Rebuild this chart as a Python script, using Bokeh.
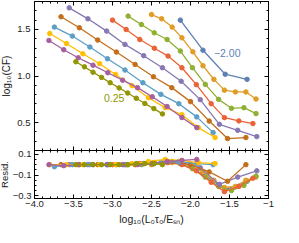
from bokeh.plotting import figure
from bokeh.layouts import column
from bokeh.models import FixedTicker, Label, LinearAxis, Range1d
from bokeh.embed import file_html
from bokeh.resources import INLINE

# ---- data ----
labels = ["−2.00", "−1.75", "−1.50", "−1.25", "−1.00", "−0.75", "−0.50", "−0.25", "0.00", "0.25"]
colors = ["#5E81B5", "#E19C24", "#8FB032", "#EB6235", "#8778B3",
          "#C56E1A", "#5D9EC7", "#FFBF00", "#A5609D", "#929600"]

x_m200 = [-2.13, -1.84, -1.555, -1.275]
y_m200 = [1.600, 1.277, 1.019, 0.964]
r_m200 = [0.01, -0.09, -0.24, -0.16]

x_m175 = [-2.50, -2.37, -2.235, -2.11, -1.97, -1.84, -1.70, -1.565, -1.425, -1.29, -1.16]
y_m175 = [1.660, 1.614, 1.525, 1.410, 1.260, 1.110, 0.964, 0.848, 0.829, 0.829, 0.753]
r_m175 = [0.00, 0.01, 0.02, 0.01, -0.02, -0.07, -0.15, -0.22, -0.21, -0.15, -0.12]

x_m150 = [-2.80, -2.63, -2.465, -2.30, -2.13, -1.975, -1.81, -1.64, -1.475, -1.315, -1.16]
y_m150 = [1.643, 1.553, 1.464, 1.392, 1.268, 1.089, 0.910, 0.749, 0.653, 0.660, 0.596]
r_m150 = [0.00, 0.00, 0.01, 0.02, 0.01, -0.04, -0.12, -0.21, -0.25, -0.20, -0.11]

x_m125 = [-3.00, -2.825, -2.65, -2.4625, -2.2875, -2.11, -1.925, -1.735, -1.565, -1.38, -1.20]
y_m125 = [1.600, 1.499, 1.392, 1.298, 1.214, 1.089, 0.907, 0.703, 0.553, 0.518, 0.489]
r_m125 = [0.00, 0.00, 0.01, 0.02, 0.02, 0.00, -0.06, -0.17, -0.26, -0.21, -0.13]

x_m100 = [-3.555, -3.315, -3.075, -2.84, -2.60, -2.36, -2.12, -1.875, -1.63, -1.395, -1.15]
y_m100 = [1.732, 1.614, 1.482, 1.339, 1.218, 1.089, 0.944, 0.746, 0.481, 0.417, 0.349]
r_m100 = [0.00, 0.00, 0.00, 0.00, 0.01, 0.02, 0.02, -0.03, -0.19, -0.12, -0.06]

x_m075 = [-3.66, -3.425, -3.19, -2.95, -2.71, -2.475, -2.24, -2.00, -1.76, -1.525, -1.29]
y_m075 = [1.636, 1.518, 1.386, 1.257, 1.124, 0.992, 0.875, 0.725, 0.516, 0.328, 0.339]
r_m075 = [0.00, 0.00, 0.00, 0.00, 0.00, 0.01, 0.03, 0.00, -0.07, -0.16, 0.00]

x_m050 = [-3.745, -3.515, -3.29, -3.065, -2.84, -2.61, -2.38, -2.15, -1.92, -1.71]
y_m050 = [1.525, 1.429, 1.311, 1.185, 1.064, 0.928, 0.803, 0.703, 0.561, 0.392]
r_m050 = [-0.02, 0.00, 0.00, 0.00, 0.00, 0.01, 0.02, 0.03, 0.01, 0.00]

x_m025 = [-3.805, -3.59, -3.38, -3.165, -2.96, -2.75, -2.54, -2.325, -2.11, -1.90, -1.685]
y_m025 = [1.457, 1.349, 1.239, 1.132, 1.017, 0.896, 0.767, 0.660, 0.585, 0.446, 0.339]
r_m025 = [0.00, 0.00, 0.00, 0.00, 0.00, 0.01, 0.03, 0.05, 0.04, 0.02, 0.01]

x_p000 = [-3.815, -3.625, -3.44, -3.25, -3.06, -2.87, -2.68, -2.49, -2.30, -2.11, -1.92]
y_p000 = [1.382, 1.282, 1.196, 1.116, 1.035, 0.955, 0.875, 0.777, 0.672, 0.554, 0.446]
r_p000 = [0.00, -0.01, 0.00, 0.00, 0.00, 0.00, 0.00, 0.01, 0.03, 0.04, 0.05]

x_p025 = [-3.47, -3.36, -3.25, -3.14, -3.03, -2.915, -2.805, -2.695, -2.585, -2.47, -2.36]
y_p025 = [1.153, 1.098, 1.041, 0.985, 0.928, 0.872, 0.817, 0.761, 0.705, 0.650, 0.593]
r_p025 = [0.00, 0.00, 0.00, 0.00, 0.00, 0.00, 0.00, 0.01, 0.01, 0.01, 0.00]

xs = [x_m200, x_m175, x_m150, x_m125, x_m100, x_m075, x_m050, x_m025, x_p000, x_p025]
ys = [y_m200, y_m175, y_m150, y_m125, y_m100, y_m075, y_m050, y_m025, y_p000, y_p025]
rs = [r_m200, r_m175, r_m150, r_m125, r_m100, r_m075, r_m050, r_m025, r_p000, r_p025]

x_ticks = [-4.0, -3.5, -3.0, -2.5, -2.0, -1.5, -1.0]
x_tick_labels = ["−4.0", "−3.5", "−3.0", "−2.5", "−2.0", "−1.5", "−1"]
y_ticks = [0.5, 1.0, 1.5]
y_tick_labels = ["0.5", "1.0", "1.5"]
r_ticks = [-0.3, -0.1, 0.1]
r_tick_labels = ["−0.3", "−0.1", "0.1"]

FONT = "Liberation Sans"
TXT = "#222222"

x_minor = [round(-4.0 + 0.1 * i, 2) for i in range(31)]
y_minor = [round(0.2 + 0.1 * i, 2) for i in range(17)]
r_minor = [round(-0.3 + 0.05 * i, 3) for i in range(9)]


def style(ax, ticks, minor, tick_labels=None, label_standoff=3):
    ax.ticker = FixedTicker(ticks=ticks, minor_ticks=minor)
    ax.major_tick_in = 4
    ax.major_tick_out = 0
    ax.minor_tick_in = 2
    ax.minor_tick_out = 0
    ax.axis_line_color = "black"
    ax.major_tick_line_color = "black"
    ax.minor_tick_line_color = "black"
    if tick_labels is None:
        ax.major_label_text_color = None
        ax.major_label_standoff = 0
    else:
        ax.major_label_overrides = {t: s for t, s in zip(ticks, tick_labels)}
        ax.major_label_text_font_size = "9.5px"
        ax.major_label_text_font = FONT
        ax.major_label_text_color = TXT
        ax.major_label_standoff = 4
    ax.axis_label_text_font = FONT
    ax.axis_label_text_font_style = "normal"
    ax.axis_label_text_font_size = "10px"
    ax.axis_label_text_color = TXT
    ax.axis_label_standoff = label_standoff


# page geometry: upper frame x 42..282, y 9..158 ; lower frame y 158..206
LB = 40   # left border (reserved)
TOPB = 14
MIDB = 12

p1 = figure(frame_width=240, frame_height=149, x_range=Range1d(-4, -1), y_range=Range1d(0.2, 1.8),
            output_backend="svg", toolbar_location=None, title=None,
            min_border_left=LB, min_border_right=8, min_border_top=TOPB, min_border_bottom=MIDB)
p1.margin = (9 - 8 - TOPB, 0, 0, 42 - 8 - LB)
p1.grid.visible = False
p1.outline_line_color = "black"
p1.add_layout(LinearAxis(), "above")
p1.add_layout(LinearAxis(), "right")
style(p1.below[0], x_ticks, x_minor)
style(p1.above[0], x_ticks, x_minor)
style(p1.left[0], y_ticks, y_minor, y_tick_labels, label_standoff=2)
style(p1.right[0], y_ticks, y_minor)
p1.left[0].axis_label = "log₁₀(CF)"

p2 = figure(frame_width=240, frame_height=48, x_range=p1.x_range, y_range=Range1d(-0.326, 0.136),
            output_backend="svg", toolbar_location=None, title=None,
            min_border_left=LB, min_border_right=8, min_border_top=MIDB, min_border_bottom=0)
p2.margin = (-2 * MIDB, 0, -6, 42 - 8 - LB)
p2.grid.visible = False
p2.outline_line_color = "black"
p2.border_fill_color = None
p2.add_layout(LinearAxis(), "above")
p2.add_layout(LinearAxis(), "right")
style(p2.below[0], x_ticks, x_minor, x_tick_labels, label_standoff=3)
style(p2.above[0], x_ticks, x_minor)
style(p2.left[0], r_ticks, r_minor, r_tick_labels, label_standoff=0)
style(p2.right[0], r_ticks, r_minor)
p2.left[0].major_label_standoff = 3
p2.left[0].axis_label_text_font_size = "9.5px"
p2.below[0].major_label_standoff = 2
p2.left[0].axis_label = "Resid."
p2.below[0].axis_label = "log₁₀(L₀τ₀/Eₛₙ)"
p2.below[0].axis_label_text_font_size = "10.5px"

for x, y, r, c in zip(xs, ys, rs, colors):
    p1.line(x, y, line_color=c, line_width=1.3)
    p1.scatter(x, y, marker="circle", size=4.5, fill_color=c, line_color=c)
    p2.line(x, r, line_color=c, line_width=1.3)
    p2.scatter(x, r, marker="circle", size=4.5, fill_color=c, line_color=c)

p1.add_layout(Label(x=-1.70, y=1.25, text=labels[0], text_color=colors[0],
                    text_font=FONT, text_font_size="10.5px", text_baseline="middle"))
p1.add_layout(Label(x=-3.11, y=0.767, text=labels[-1], text_color=colors[-1],
                    text_font=FONT, text_font_size="10.5px", text_baseline="middle"))

layout = column(p1, p2, spacing=0)
open("out.html", "w").write(file_html(layout, INLINE))
